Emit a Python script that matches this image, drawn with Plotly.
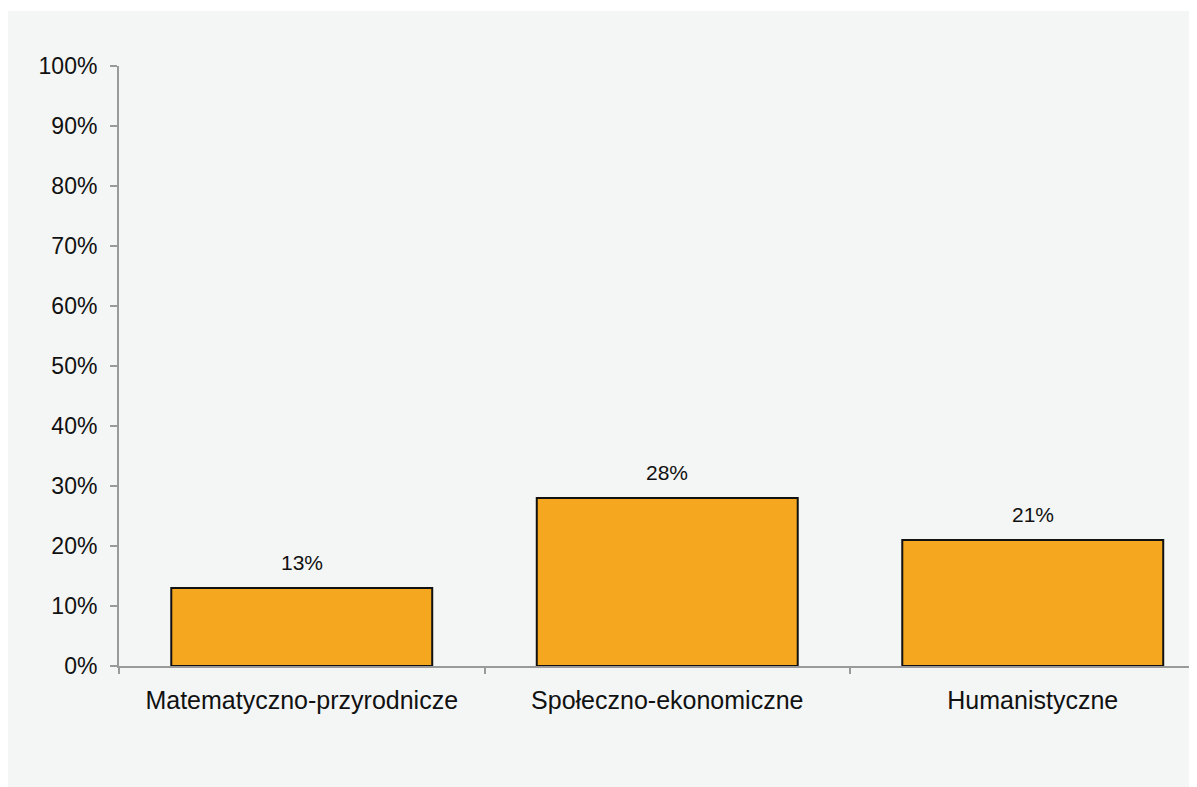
import plotly.graph_objects as go

# Data
categories = ['Matematyczno-przyrodnicze', 'Społeczno-ekonomiczne', 'Humanistyczne']
shares = [0.13, 0.28, 0.21]
y_ticks = [0, 0.1, 0.2, 0.3, 0.4, 0.5, 0.6, 0.7, 0.8, 0.9, 1.0]

COLORS = {
    'bar': '#F5A720',
    'outline': '#111111',
    'panel': '#F4F6F5',
    'axis': '#9A9A9A',
    'text': '#111111',
}

# page body keeps its default 8px margin, so the figure is 8px smaller
W, H = 1189, 779
L, R, T, B = 111, 0, 58, 121
CAT_PX = 365.5  # pixel width of one category slot
plot_w = W - L - R
plot_h = H - T - B

fig = go.Figure(go.Bar(
    x=categories,
    y=shares,
    marker=dict(color=COLORS['bar'], line=dict(color=COLORS['outline'], width=2)),
    hoverinfo='skip',
))

# value labels above bars
for cat, val in zip(categories, shares):
    fig.add_annotation(
        x=cat, y=val, text=f'{val:.0%}', showarrow=False,
        yanchor='middle', yshift=26,
        font=dict(family='Liberation Sans Narrow, Arial Narrow, Liberation Sans', size=21, color=COLORS['text']),
    )

# light grey panel behind the chart (thin white strip left at the top)
fig.add_shape(
    type='rect', xref='paper', yref='paper', layer='below',
    x0=-L / plot_w, x1=(W - L) / plot_w,
    y0=-B / plot_h, y1=(plot_h + T - 3) / plot_h,
    fillcolor=COLORS['panel'], line=dict(width=0),
)

fig.update_layout(
    width=W, height=H,
    margin=dict(l=L, r=R, t=T, b=B),
    paper_bgcolor='white',
    plot_bgcolor=COLORS['panel'],
    font=dict(family='Liberation Sans, Arial', size=23, color=COLORS['text']),
    bargap=0.286,
    showlegend=False,
    xaxis=dict(
        range=[-0.5, -0.5 + plot_w / CAT_PX],
        showline=True, linecolor=COLORS['axis'], linewidth=2,
        ticks='outside', tickson='boundaries', ticklen=6, tickwidth=2, tickcolor=COLORS['axis'],
        ticklabelstandoff=11,
        tickfont=dict(size=25),
        showgrid=False, zeroline=False,
    ),
    yaxis=dict(
        range=[0, 1],
        tickvals=y_ticks, tickformat='.0%',
        showline=True, linecolor=COLORS['axis'], linewidth=2,
        ticks='outside', ticklen=7, tickwidth=2, tickcolor=COLORS['axis'],
        ticklabelstandoff=8,
        showgrid=False, zeroline=False,
    ),
)

fig.write_html('out.html')
